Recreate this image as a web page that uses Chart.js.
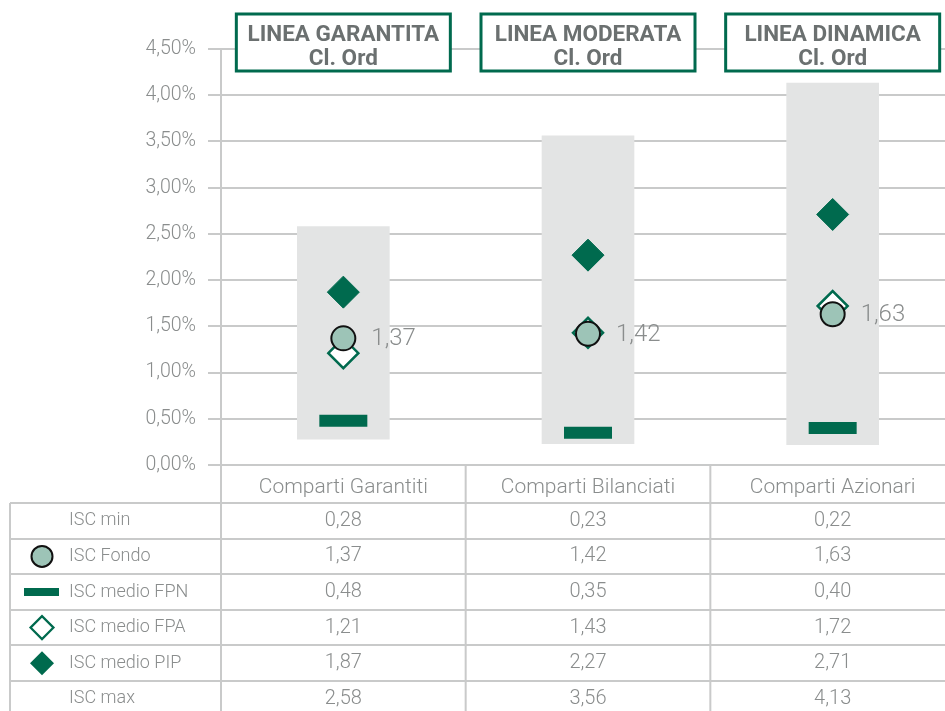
<!DOCTYPE html>
<html>
<head>
<meta charset="utf-8">
<script src="https://cdn.jsdelivr.net/npm/chart.js@4.4.1/dist/chart.umd.min.js"></script>
<style>
  html, body { margin: 0; padding: 0; background: #fff; overflow: hidden; }
  #wrap { width: 955px; height: 711px; }
</style>
</head>
<body>
<div id="wrap"><canvas id="iscChart" width="955" height="711"></canvas></div>
<script>
// ISC per comparto
const categories = ['Comparti Garantiti', 'Comparti Bilanciati', 'Comparti Azionari'];
const lineNames = ['LINEA GARANTITA', 'LINEA MODERATA', 'LINEA DINAMICA'];
const lineClass = 'Cl. Ord';

const iscMin = [0.28, 0.23, 0.22];
const iscFondo = [1.37, 1.42, 1.63];
const iscFpn = [0.48, 0.35, 0.40];
const iscFpa = [1.21, 1.43, 1.72];
const iscPip = [1.87, 2.27, 2.71];
const iscMax = [2.58, 3.56, 4.13];

const yMin = 0, yMax = 4.5, yStep = 0.5;

const GREEN = '#006a4e';
const SAGE = '#9dc4b7';
const GREY_BAR = '#e3e4e4';
const GRID = '#c9caca';
const TEXT = '#8a8d8d';
const FONT = 'Roboto, "DejaVu Sans", sans-serif';

const fmt = v => v.toFixed(2).replace('.', ',');

// table rows under the chart
const tableRows = [
  { label: 'ISC min', values: iscMin, icon: null },
  { label: 'ISC Fondo', values: iscFondo, icon: 'circle' },
  { label: 'ISC medio FPN', values: iscFpn, icon: 'bar' },
  { label: 'ISC medio FPA', values: iscFpa, icon: 'openDiamond' },
  { label: 'ISC medio PIP', values: iscPip, icon: 'diamond' },
  { label: 'ISC max', values: iscMax, icon: null }
];

const TABLE_TOP = 503;
const ROW_H = 35.6;
const TABLE_LEFT = 10;

function drawDiamond(ctx, x, y, r) {
  ctx.beginPath();
  ctx.moveTo(x - r, y);
  ctx.lineTo(x, y - r);
  ctx.lineTo(x + r, y);
  ctx.lineTo(x, y + r);
  ctx.closePath();
}

function drawIcon(ctx, type, x, y) {
  ctx.save();
  if (type === 'circle') {
    ctx.beginPath();
    ctx.arc(x, y, 10.5, 0, Math.PI * 2);
    ctx.fillStyle = SAGE;
    ctx.fill();
    ctx.lineWidth = 2;
    ctx.strokeStyle = '#111';
    ctx.stroke();
  } else if (type === 'bar') {
    ctx.fillStyle = GREEN;
    ctx.fillRect(x - 18, y - 4, 35, 8);
  } else if (type === 'openDiamond') {
    drawDiamond(ctx, x, y, 11.5);
    ctx.fillStyle = '#fff';
    ctx.fill();
    ctx.lineWidth = 2.2;
    ctx.strokeStyle = GREEN;
    ctx.stroke();
  } else if (type === 'diamond') {
    drawDiamond(ctx, x, y, 12);
    ctx.fillStyle = GREEN;
    ctx.fill();
  }
  ctx.restore();
}

// value table, column rules and the header boxes
const tablePlugin = {
  id: 'iscTable',
  afterDraw(chart) {
    const ctx = chart.ctx;
    const x = chart.scales.x;
    const area = chart.chartArea;
    const h = chart.height;
    const centers = categories.map((c, i) => x.getPixelForValue(i));
    const bounds = [area.left];
    for (let i = 0; i < centers.length - 1; i++) bounds.push((centers[i] + centers[i + 1]) / 2);

    ctx.save();
    ctx.strokeStyle = GRID;
    ctx.lineWidth = 2;

    // horizontal rules
    for (let r = 0; r <= tableRows.length; r++) {
      const y = Math.round(TABLE_TOP + r * ROW_H);
      ctx.beginPath();
      ctx.moveTo(TABLE_LEFT, y);
      ctx.lineTo(chart.width, y);
      ctx.stroke();
    }
    // vertical rules
    ctx.beginPath();
    ctx.moveTo(TABLE_LEFT, TABLE_TOP);
    ctx.lineTo(TABLE_LEFT, h);
    bounds.forEach(bx => {
      ctx.moveTo(bx, area.bottom);
      ctx.lineTo(bx, h);
    });
    ctx.stroke();

    // cell text
    ctx.fillStyle = TEXT;
    ctx.textBaseline = 'middle';
    tableRows.forEach((row, r) => {
      const cy = TABLE_TOP + r * ROW_H + ROW_H / 2;
      ctx.font = '300 18px ' + FONT;
      ctx.textAlign = 'left';
      ctx.fillText(row.label, 69, cy);
      if (row.icon) drawIcon(ctx, row.icon, 42, cy);
      ctx.font = '300 20px ' + FONT;
      ctx.textAlign = 'center';
      row.values.forEach((v, i) => ctx.fillText(fmt(v), centers[i], cy));
    });

    // ISC Fondo value next to each circle
    const fondoMeta = chart.getDatasetMeta(1);
    ctx.font = '300 24px ' + FONT;
    ctx.textAlign = 'left';
    fondoMeta.data.forEach((pt, i) => {
      ctx.fillText(fmt(iscFondo[i]), pt.x + 28, pt.y + 1);
    });

    // line header boxes
    centers.forEach((cx, i) => {
      const bw = 214, top = 14, bh = 57;
      ctx.fillStyle = '#fff';
      ctx.fillRect(cx - bw / 2, top, bw, bh);
      ctx.strokeStyle = GREEN;
      ctx.lineWidth = 3;
      ctx.strokeRect(cx - bw / 2, top, bw, bh);
      ctx.fillStyle = '#6b7070';
      ctx.textAlign = 'center';
      ctx.font = 'bold 22.5px ' + FONT;
      ctx.fillText(lineNames[i], cx, top + 21);
      ctx.fillText(lineClass, cx, top + 45);
    });
    ctx.restore();
  }
};

const pointSet = (label, data, opts) => Object.assign({
  type: 'line',
  label: label,
  data: data,
  showLine: false,
  pointHoverRadius: opts.pointRadius
}, opts);

new Chart(document.getElementById('iscChart'), {
  type: 'bar',
  data: {
    labels: categories,
    datasets: [
      {
        label: 'ISC min-max',
        data: categories.map((c, i) => [iscMin[i], iscMax[i]]),
        backgroundColor: GREY_BAR,
        barThickness: 92,
        borderWidth: 0,
        order: 10
      },
      pointSet('ISC Fondo', iscFondo, {
        pointStyle: 'circle',
        pointRadius: 12,
        pointBackgroundColor: SAGE,
        pointBorderColor: '#111',
        pointBorderWidth: 2,
        order: 1
      }),
      pointSet('ISC medio FPN', iscFpn, {
        pointStyle: 'line',
        pointRadius: 24,
        pointBorderColor: GREEN,
        pointBorderWidth: 12,
        order: 5
      }),
      pointSet('ISC medio FPA', iscFpa, {
        pointStyle: 'rectRot',
        pointRadius: 15,
        pointBackgroundColor: '#fff',
        pointBorderColor: GREEN,
        pointBorderWidth: 2.5,
        order: 4
      }),
      pointSet('ISC medio PIP', iscPip, {
        pointStyle: 'rectRot',
        pointRadius: 16,
        pointBackgroundColor: GREEN,
        pointBorderColor: GREEN,
        pointBorderWidth: 1,
        order: 3
      })
    ]
  },
  options: {
    responsive: false,
    animation: false,
    layout: { autoPadding: false, padding: { top: 49, bottom: 711 - TABLE_TOP, left: 0, right: 0 } },
    plugins: {
      legend: { display: false },
      tooltip: { enabled: false }
    },
    scales: {
      x: {
        grid: { display: false, drawTicks: false },
        border: { display: false },
        ticks: {
          color: TEXT,
          font: { family: FONT, size: 21, weight: 300 },
          padding: 10
        },
        afterFit(scale) { scale.height = TABLE_TOP - 465; }
      },
      y: {
        min: yMin,
        max: yMax,
        ticks: {
          stepSize: yStep,
          color: TEXT,
          padding: 12,
          font: { family: FONT, size: 19.5, weight: 300 },
          callback: v => fmt(v) + '%'
        },
        grid: { color: GRID, lineWidth: 2, tickLength: 13 },
        border: { color: GRID, width: 2 },
        afterFit(scale) { scale.width = 221; }
      }
    }
  },
  plugins: [tablePlugin]
});
</script>
</body>
</html>
